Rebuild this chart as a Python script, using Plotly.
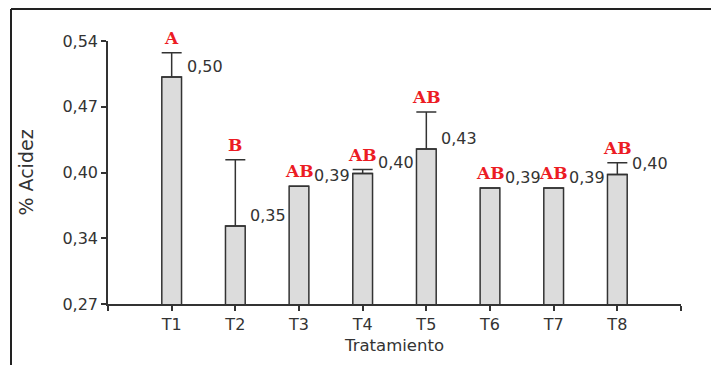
import plotly.graph_objects as go

categories = ["T1", "T2", "T3", "T4", "T5", "T6", "T7", "T8"]
acidez = [0.503, 0.350, 0.391, 0.404, 0.429, 0.389, 0.389, 0.403]
error_up = [0.025, 0.068, None, 0.004, 0.038, None, None, 0.012]
letters = ["A", "B", "AB", "AB", "AB", "AB", "AB", "AB"]
y_tickvals = [0.27, 0.3375, 0.405, 0.4725, 0.54]
y_ticktext = ["0,27", "0,34", "0,40", "0,47", "0,54"]

xpos = list(range(len(categories)))
bar_w = 0.31
dark = "#333333"

fig = go.Figure()
fig.add_trace(go.Bar(
    x=xpos, y=acidez, width=bar_w,
    marker=dict(color="#dcdcdc", line=dict(color=dark, width=1.5)),
    error_y=dict(type="data", symmetric=False, array=error_up,
                 arrayminus=[0] * len(acidez),
                 color=dark, thickness=1.5, width=10),
    hoverinfo="skip",
))

ann = []
for i, (v, e, L) in enumerate(zip(acidez, error_up, letters)):
    top = v + (e or 0)
    ann.append(dict(x=i + bar_w / 2, y=v, xref="x", yref="y",
                    text=f"{v:.2f}".replace(".", ","), showarrow=False,
                    xanchor="left", yanchor="middle", xshift=3, yshift=11,
                    font=dict(family="DejaVu Sans", size=16, color=dark)))
    ann.append(dict(x=i, y=top, xref="x", yref="y", text=f"<b>{L}</b>",
                    showarrow=False, xanchor="center", yanchor="bottom",
                    yshift=3,
                    font=dict(family="DejaVu Serif", size=17, color="#ec1c24")))

# outer frame (top and left only)
L, R, T, B = 108, 30, 41, 61
pw, ph = 711 - L - R, 365 - T - B
def px(xp):
    return (xp - L) / pw
def py(yp):
    return (365 - B - yp) / ph

shapes = [
    dict(type="line", xref="paper", yref="paper", x0=px(11), x1=px(730),
         y0=py(9), y1=py(9), line=dict(color="#222222", width=2)),
    dict(type="line", xref="paper", yref="paper", x0=px(11), x1=px(11),
         y0=py(9), y1=py(380), line=dict(color="#222222", width=2)),
]

fig.update_layout(
    width=711, height=365,
    margin=dict(l=L, r=R, t=T, b=B),
    plot_bgcolor="white", paper_bgcolor="white",
    showlegend=False,
    font=dict(family="DejaVu Sans", size=16, color=dark),
    annotations=ann, shapes=shapes,
    xaxis=dict(range=[-1, 8], tickvals=[-1] + xpos + [8],
               ticktext=[""] + categories + [""],
               showline=True, linecolor=dark, linewidth=1.5,
               ticks="outside", ticklen=5, tickcolor=dark, tickwidth=1.5,
               showgrid=False, zeroline=False,
               title=dict(text="Tratamiento", standoff=6,
                          font=dict(size=16.5))),
    yaxis=dict(range=[0.27, 0.54], tickvals=y_tickvals, ticktext=y_ticktext,
               showline=True, linecolor=dark, linewidth=1.5,
               ticks="outside", ticklen=5, tickcolor=dark, tickwidth=1.5,
               showgrid=False, zeroline=False,
               title=dict(text="% Acidez", standoff=24)),
)

fig.write_html("out.html")
